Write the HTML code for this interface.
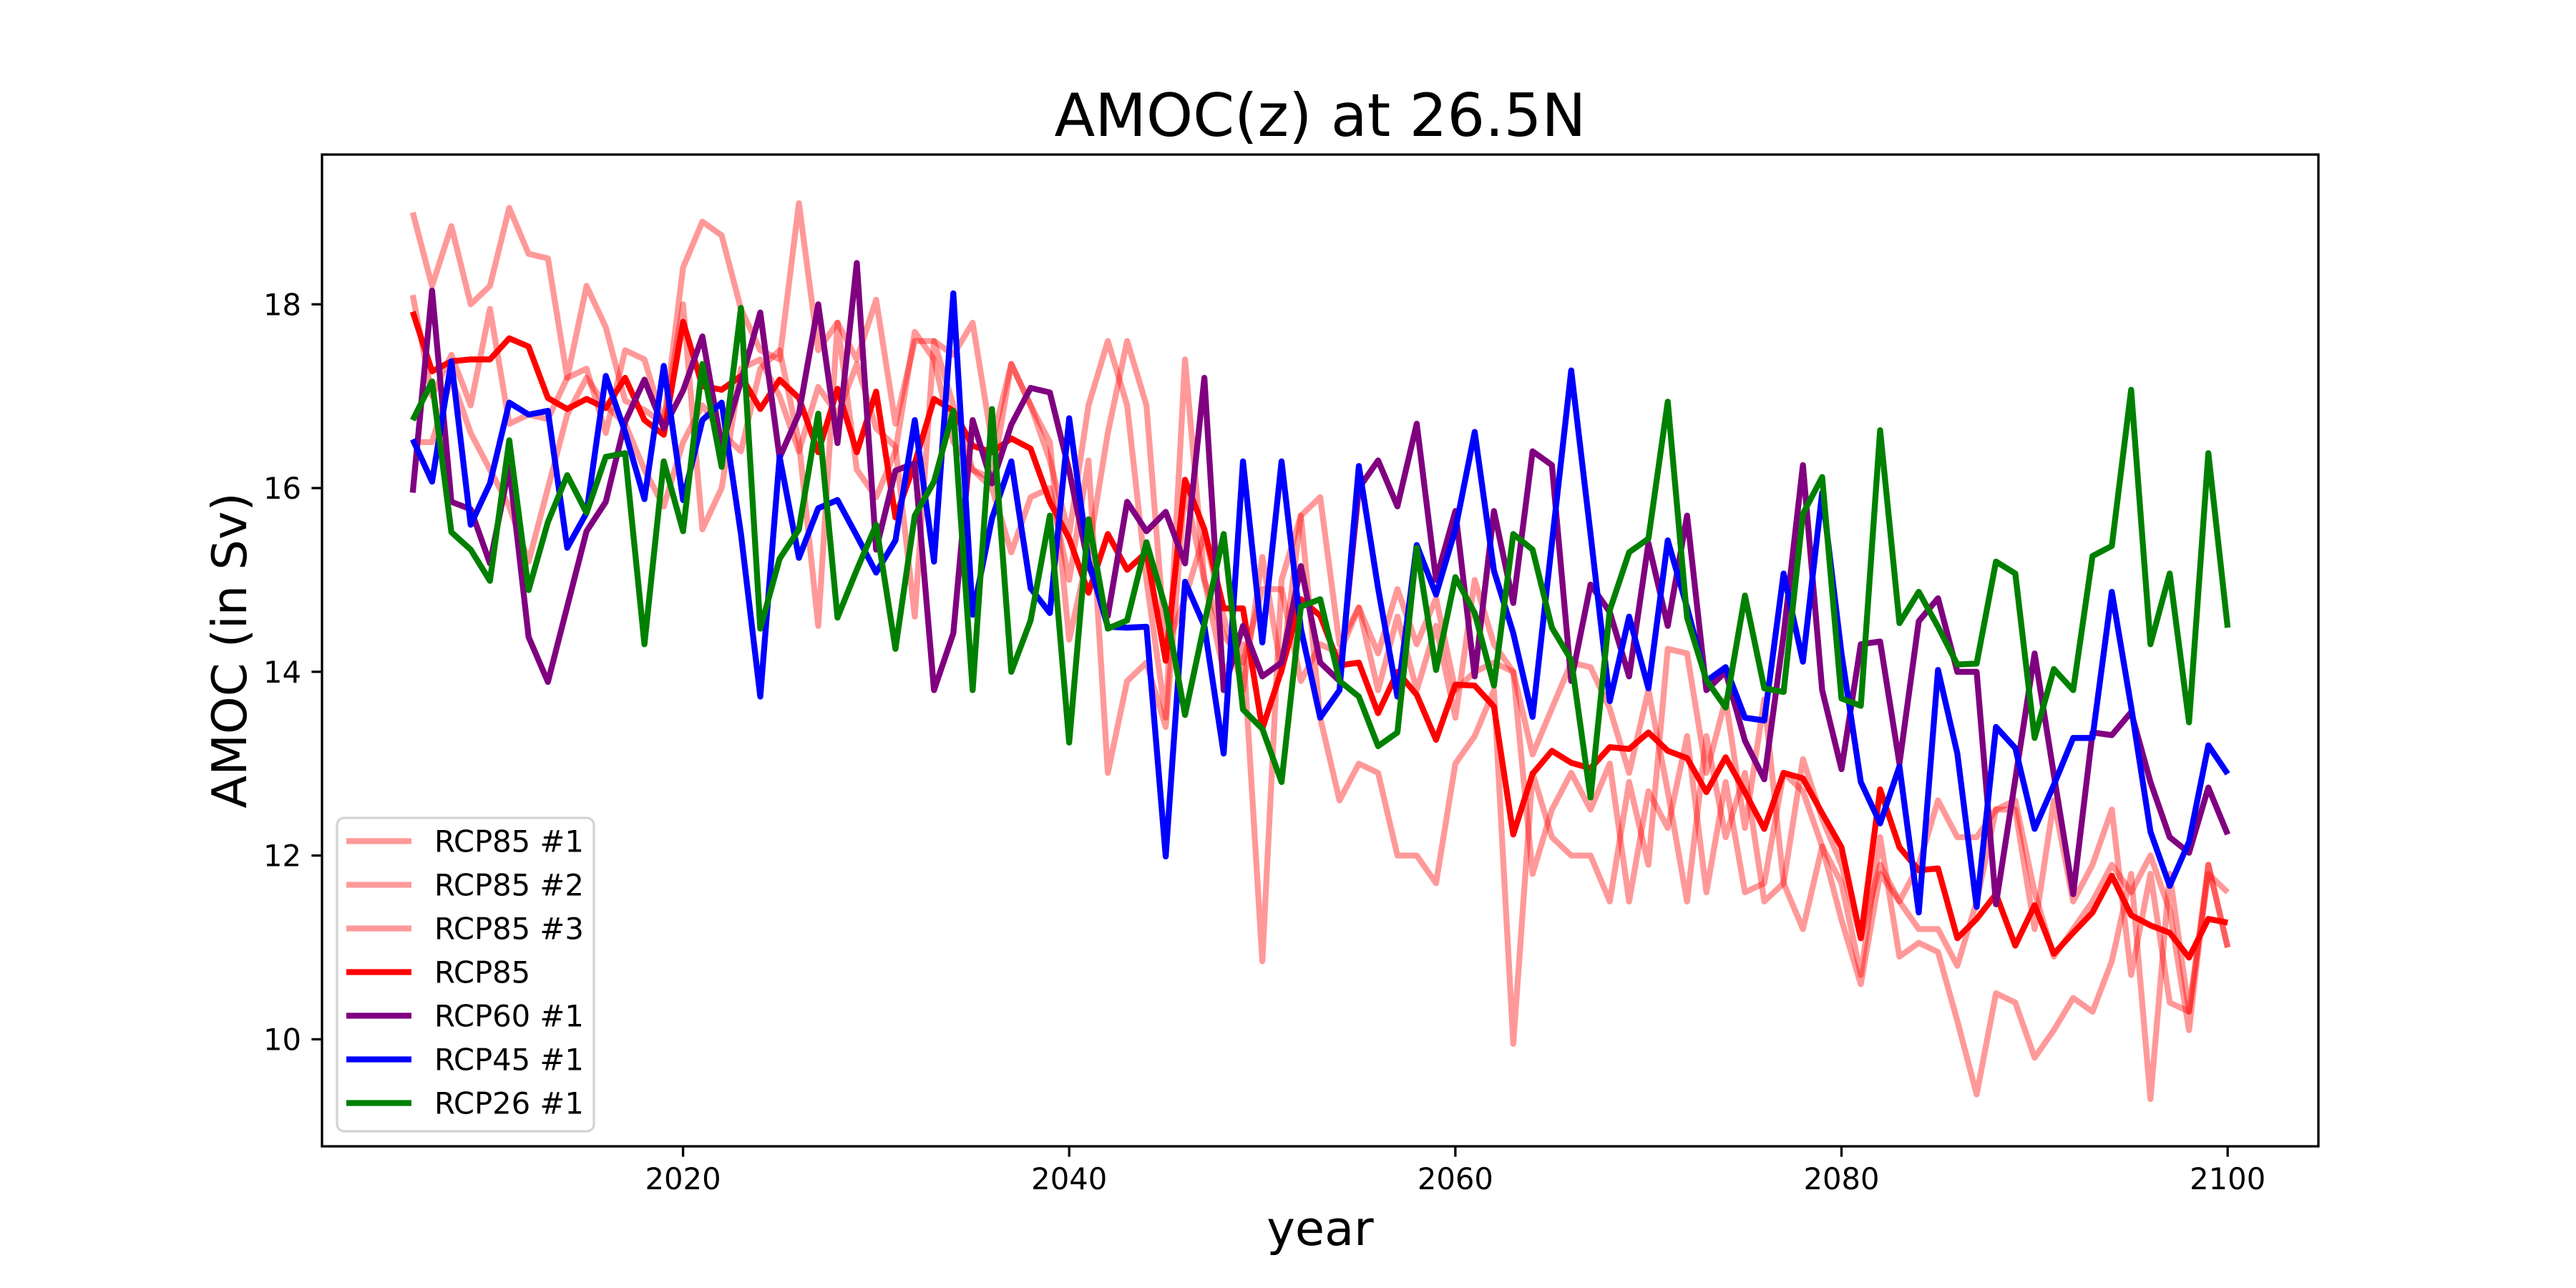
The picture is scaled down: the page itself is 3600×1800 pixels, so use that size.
<!DOCTYPE html>
<html><head><meta charset="utf-8"><title>AMOC(z) at 26.5N</title>
<style>
html,body{margin:0;padding:0;background:#fff;}
svg{display:block;}
text{font-family:"DejaVu Sans","Liberation Sans",sans-serif;fill:#000;}
</style></head>
<body>
<svg id="chart" width="3600" height="1800" viewBox="0 0 3600 1800" xmlns="http://www.w3.org/2000/svg">
<rect x="0" y="0" width="3600" height="1800" fill="#fff"/>
<text x="1845" y="190" font-size="83" text-anchor="middle">AMOC(z) at 26.5N</text>
<text x="1845" y="1740" font-size="67" text-anchor="middle">year</text>
<text transform="translate(344,909) rotate(-90)" font-size="67" text-anchor="middle">AMOC (in Sv)</text>
<g id="plot"></g>
<g id="xticks"></g>
<g id="yticks"></g>
<rect x="450" y="216" width="2790" height="1386" fill="none" stroke="#000" stroke-width="3.3"/>
<g id="legend"></g>
</svg>
<script>
const years = Array.from({length:95},(_,i)=>2006+i);
const xTicks = [2020,2040,2060,2080,2100];
const yTicks = [10,12,14,16,18];
const seriesNames = ["RCP85 #1","RCP85 #2","RCP85 #3","RCP85","RCP60 #1","RCP45 #1","RCP26 #1"];
const rcp85m1 = [19.0,18.2,18.85,18.0,18.2,19.05,18.55,18.5,17.2,18.2,
17.75,16.95,16.85,16.7,18.4,18.9,18.75,17.95,17.5,17.4,
19.1,17.5,17.8,17.4,18.05,16.7,17.6,17.6,17.45,17.8,
16.5,17.35,16.9,16.3,15.5,16.9,17.6,16.9,15.0,13.5,
17.4,15.0,14.0,14.3,10.85,15.0,15.7,13.5,12.6,13.0,
12.9,12.0,12.0,11.7,13.0,13.3,13.8,9.95,12.9,12.2,
12.0,12.0,11.5,12.8,11.9,14.25,14.2,12.9,13.7,12.3,
13.7,11.7,11.2,12.1,11.7,10.7,12.2,10.9,11.05,10.95,
10.2,9.4,10.5,10.4,9.8,10.1,10.45,10.3,10.85,11.8,
9.35,11.8,10.3,11.9,11.0];
const rcp85m2 = [18.1,17.0,17.45,16.9,17.95,16.7,16.8,16.75,17.2,17.3,
16.6,17.5,17.4,16.7,18.0,15.55,16.0,17.3,17.4,17.0,
16.4,17.1,16.8,17.35,16.65,16.45,14.6,17.6,16.9,16.2,
16.1,17.35,16.9,16.5,14.35,15.3,16.6,17.6,16.9,14.25,
14.8,15.5,14.6,13.8,15.25,14.0,15.7,15.9,14.3,14.7,
14.2,14.9,14.3,14.8,13.8,14.0,14.1,14.0,13.1,13.6,
14.1,14.05,13.6,12.9,13.8,12.7,11.5,13.3,12.2,12.9,
11.5,11.7,13.05,12.4,11.9,11.1,11.9,11.5,11.9,12.6,
12.2,12.2,12.5,12.5,11.2,12.6,11.5,11.9,12.5,10.7,
11.8,10.4,10.3,11.8,11.6];
const rcp85m3 = [16.5,16.5,17.2,16.6,16.2,15.8,15.2,16.0,16.8,17.2,
16.9,16.7,16.2,15.8,16.5,16.9,16.6,16.4,17.3,17.5,
16.5,14.5,17.8,16.2,15.9,16.4,17.7,17.4,16.5,16.2,
16.0,15.3,15.9,16.0,15.0,16.3,12.9,13.9,14.1,13.4,
16.0,15.0,14.4,14.1,14.9,14.9,13.9,14.3,14.2,14.7,
13.8,14.6,13.8,14.5,13.5,15.0,14.3,14.0,11.8,12.5,
12.9,12.5,13.0,11.5,12.7,12.3,13.3,11.6,12.8,11.6,
11.7,12.9,12.7,12.1,11.3,10.6,11.8,11.5,11.2,11.2,
10.8,11.5,12.5,12.6,11.6,10.9,11.2,11.5,11.9,11.6,
12.0,11.4,10.1,11.9,11.0];
const rcp85 = [17.92,17.27,17.38,17.40,17.40,17.63,17.54,16.98,16.86,16.97,
16.87,17.2,16.74,16.58,17.81,17.11,17.07,17.22,16.86,17.18,
16.98,16.39,17.08,16.39,17.05,15.68,16.27,16.97,16.84,16.46,
16.39,16.54,16.43,15.85,15.45,14.86,15.5,15.11,15.3,14.12,
16.09,15.55,14.69,14.69,13.38,14.02,14.79,14.61,14.07,14.1,
13.55,14.0,13.75,13.26,13.86,13.85,13.62,12.23,12.89,13.14,
13.01,12.95,13.18,13.16,13.34,13.14,13.06,12.69,13.07,12.69,
12.29,12.9,12.84,12.46,12.09,11.1,12.72,12.09,11.84,11.86,
11.1,11.31,11.58,11.02,11.46,10.93,11.16,11.38,11.78,11.35,
11.24,11.16,10.89,11.31,11.27];
const rcp60 = [15.95,18.15,15.85,15.77,15.18,16.23,14.38,13.89,14.71,15.53,
15.85,16.72,17.18,16.65,17.06,17.65,16.46,17.16,17.91,16.33,
16.81,18.0,16.49,18.45,15.33,16.19,16.27,13.8,14.42,16.74,
16.05,16.69,17.09,17.04,16.19,15.16,14.61,15.85,15.53,15.74,
15.18,17.2,13.8,14.5,13.95,14.1,15.15,14.1,13.9,16.0,
16.3,15.8,16.7,15.0,15.75,13.95,15.75,14.75,16.4,16.25,
13.9,14.95,14.65,13.95,15.4,14.5,15.7,13.8,14.0,13.25,
12.83,14.4,16.25,13.8,12.94,14.3,14.33,13.0,14.55,14.8,
14.0,14.0,11.47,12.83,14.2,12.88,11.58,13.34,13.31,13.56,
12.8,12.2,12.03,12.74,12.23];
const rcp45 = [16.53,16.07,17.38,15.6,16.05,16.93,16.8,16.84,15.35,15.73,
17.22,16.61,15.88,17.33,15.87,16.74,16.93,15.5,13.73,16.34,
15.24,15.78,15.87,15.48,15.08,15.43,16.74,15.2,18.12,14.62,
15.67,16.29,14.91,14.64,16.76,15.21,14.49,14.48,14.49,11.99,
14.98,14.5,13.11,16.29,14.32,16.29,14.47,13.5,13.8,16.24,
14.91,13.73,15.38,14.84,15.55,16.61,15.1,14.42,13.51,15.4,
17.28,15.5,13.68,14.6,13.82,15.43,14.7,13.9,14.05,13.5,
13.47,15.07,14.11,15.95,14.2,12.8,12.35,12.97,11.38,14.02,
13.11,11.44,13.4,13.17,12.29,12.77,13.28,13.28,14.87,13.62,
12.26,11.67,12.15,13.2,12.89];
const rcp26 = [16.74,17.16,15.52,15.33,14.99,16.52,14.89,15.63,16.14,15.73,
16.34,16.38,14.3,16.29,15.53,17.35,16.23,17.96,14.47,15.23,
15.55,16.81,14.59,15.11,15.6,14.25,15.7,16.07,16.84,13.8,
16.86,14.0,14.56,15.7,13.23,15.66,14.47,14.56,15.41,14.69,
13.53,14.52,15.5,13.59,13.38,12.8,14.71,14.79,13.9,13.73,
13.19,13.34,15.35,14.02,15.03,14.64,13.85,15.5,15.33,14.48,
14.13,12.63,14.67,15.3,15.45,16.94,14.59,13.91,13.61,14.83,
13.82,13.78,15.72,16.12,13.71,13.63,16.63,14.53,14.87,14.49,
14.08,14.09,15.2,15.07,13.28,14.03,13.8,15.26,15.37,17.07,
14.3,15.07,13.45,16.38,14.48];

const NS = "http://www.w3.org/2000/svg";
const X0 = 450, X1 = 3240, Y0 = 216, Y1 = 1602;
const xMin = 2001.3, xMax = 2104.7, yMin = 8.835, yMax = 19.63;
function xs(v){ return X0 + (v - xMin) / (xMax - xMin) * (X1 - X0); }
function ys(v){ return Y1 - (v - yMin) / (yMax - yMin) * (Y1 - Y0); }
function mk(tag, attrs){ const e = document.createElementNS(NS, tag); for (const k in attrs) e.setAttribute(k, attrs[k]); return e; }

const plot = document.getElementById('plot');
const styles = [
  {c:'#ff0000', o:0.4, d:rcp85m1, n:'line-rcp85-1'},
  {c:'#ff0000', o:0.4, d:rcp85m2, n:'line-rcp85-2'},
  {c:'#ff0000', o:0.4, d:rcp85m3, n:'line-rcp85-3'},
  {c:'#ff0000', o:1, d:rcp85, n:'line-rcp85'},
  {c:'#800080', o:1, d:rcp60, n:'line-rcp60-1'},
  {c:'#0000ff', o:1, d:rcp45, n:'line-rcp45-1'},
  {c:'#008000', o:1, d:rcp26, n:'line-rcp26-1'}
];
styles.forEach(s => {
  const d = s.d.map((v,i) => (i ? 'L' : 'M') + xs(years[i]).toFixed(1) + ' ' + ys(v).toFixed(1)).join(' ');
  const p = mk('path', {d:d, fill:'none', stroke:s.c, 'stroke-opacity':s.o, 'stroke-width':8.3, 'stroke-linejoin':'round', 'stroke-linecap':'butt'});
  
  
  plot.appendChild(p);
});

const xg = document.getElementById('xticks');
xTicks.forEach(t => {
  const x = xs(t);
  const l = mk('line', {x1:x, x2:x, y1:Y1, y2:Y1+14.6, stroke:'#000', 'stroke-width':3.3});
  
  
  xg.appendChild(l);
  const tx = mk('text', {x:x, y:Y1+60, 'font-size':41.7, 'text-anchor':'middle'});
  tx.textContent = String(t);
  
  
  xg.appendChild(tx);
});
const yg = document.getElementById('yticks');
yTicks.forEach(t => {
  const y = ys(t);
  const l = mk('line', {x1:X0-14.6, x2:X0, y1:y, y2:y, stroke:'#000', 'stroke-width':3.3});
  
  
  yg.appendChild(l);
  const tx = mk('text', {x:X0-29, y:y+15, 'font-size':41.7, 'text-anchor':'end'});
  tx.textContent = String(t);
  
  
  yg.appendChild(tx);
});

const lg = document.getElementById('legend');
const box = mk('rect', {x:471, y:1143, width:359, height:438, rx:10, ry:10, fill:'#fff', 'fill-opacity':0.8, stroke:'#d4d4d4', 'stroke-width':3.3});


lg.appendChild(box);
seriesNames.forEach((name, i) => {
  const y = 1175.5 + i * 61;
  const s = styles[i];
  const l = mk('line', {x1:484, x2:575, y1:y, y2:y, stroke:s.c, 'stroke-opacity':s.o, 'stroke-width':8.3});
  
  
  lg.appendChild(l);
  const t = mk('text', {x:607, y:y+15, 'font-size':41.7});
  t.textContent = name;
  
  
  lg.appendChild(t);
});
</script>
</body></html>
